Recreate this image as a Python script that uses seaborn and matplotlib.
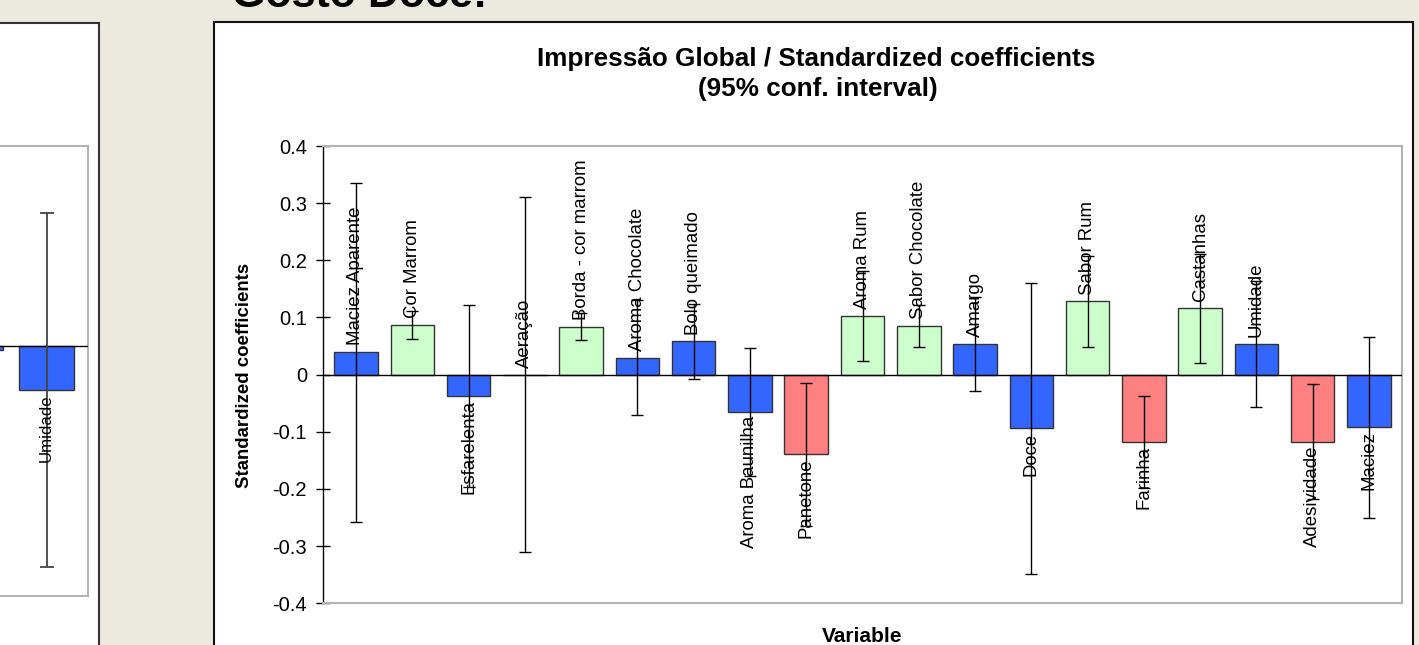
import matplotlib
matplotlib.use("Agg")
import matplotlib.pyplot as plt
from matplotlib.patches import Rectangle
from matplotlib.ticker import FuncFormatter
import numpy as np
import pandas as pd
import seaborn as sns

# ---- data -------------------------------------------------------------
names = ["Maciez Aparente", "Cor Marrom", "Esfarelenta", "Aeração", "Borda - cor marrom",
         "Aroma Chocolate", "Bolo queimado", "Aroma Baunilha", "Panetone", "Aroma Rum",
         "Sabor Chocolate", "Amargo", "Doce", "Sabor Rum", "Farinha", "Castanhas",
         "Umidade", "Adesividade", "Maciez"]
coef = [0.040, 0.087, -0.037, 0.000, 0.084, 0.030, 0.058, -0.065, -0.139, 0.103,
        0.085, 0.054, -0.094, 0.128, -0.118, 0.116, 0.054, -0.117, -0.092]
ci_low = [-0.257, 0.062, -0.197, -0.310, 0.060, -0.070, -0.007, -0.177, -0.264, 0.024,
          0.048, -0.028, -0.349, 0.048, -0.199, 0.020, -0.056, -0.217, -0.250]
ci_high = [0.336, 0.112, 0.122, 0.310, 0.108, 0.130, 0.123, 0.046, -0.014, 0.182,
           0.122, 0.136, 0.161, 0.208, -0.038, 0.211, 0.164, -0.017, 0.065]
effect = ["ns", "pos", "ns", "ns", "pos", "ns", "ns", "ns", "neg", "pos",
          "pos", "ns", "ns", "pos", "neg", "pos", "ns", "neg", "ns"]

# neighbouring panel (only its last bars fall inside the slide)
side_names = [" ", "Umidade"]
side_coef = [-0.008, -0.088]
side_low = [-0.008, -0.442]
side_high = [-0.008, 0.266]
side_effect = ["ns", "ns"]

yticks = [0.4, 0.3, 0.2, 0.1, 0.0, -0.1, -0.2, -0.3, -0.4]
effect_colors = {"ns": "#3366FF", "pos": "#CCFFCC", "neg": "#FF8080"}

# ---- figure -----------------------------------------------------------
W, H = 1419, 645
sns.set_style("white")
plt.rcParams["font.family"] = ["Liberation Sans", "DejaVu Sans"]
plt.rcParams["axes.unicode_minus"] = False
plt.rcParams["text.color"] = "black"
plt.rcParams["ytick.labelcolor"] = "black"

fig = plt.figure(figsize=(W / 100, H / 100), dpi=100)
fig.patch.set_facecolor("#ECE9DF")


def px_rect(left, top, right, bottom):
    return [left / W, 1 - bottom / H, (right - left) / W, (bottom - top) / H]


# slide panels
for (l, t, r, b, ec) in [(-10, 23.3, 99.3, 700, "#333333"), (214, 22.3, 1413.3, 700, "#111111")]:
    x0, y0, w, h = px_rect(l, t, r, b)
    fig.patches.append(Rectangle((x0, y0), w, h, transform=fig.transFigure,
                                 facecolor="white", edgecolor=ec, linewidth=1.5, zorder=-1))

fig.text(232 / W, 1 - 7 / H, "Gosto Doce:", fontsize=31, fontweight="bold",
         ha="left", va="baseline", color="black")

# ---- main chart -------------------------------------------------------
ax = fig.add_axes(px_rect(323.3, 146, 1402, 603.3))
df = pd.DataFrame({"name": names, "coef": coef, "effect": effect})
sns.barplot(data=df, x="name", y="coef", hue="effect", order=names, palette=effect_colors,
            dodge=False, width=0.773, saturation=1, edgecolor="#333333", linewidth=1,
            errorbar=None, legend=False, ax=ax)

c = np.array(coef)
ax.errorbar(np.arange(len(names)), c, yerr=[c - np.array(ci_low), np.array(ci_high) - c],
            fmt="none", ecolor="black", elinewidth=1, capsize=4, capthick=1, zorder=4)
ax.axhline(0, color="black", lw=1, zorder=3)

for i, (n, v) in enumerate(zip(names, coef)):
    if v >= 0:
        ax.annotate(n, (i, v), xytext=(0, 5), textcoords="offset points", rotation=90,
                    ha="center", va="bottom", fontsize=13.4, color="black", zorder=5)
    else:
        ax.annotate(n, (i, v), xytext=(0, -3), textcoords="offset points", rotation=90,
                    ha="center", va="top", fontsize=13.4, color="black", zorder=5)

ax.set_xlim(-0.581, 18.586)
ax.set_ylim(-0.4, 0.4)
ax.set_xticks([])
ax.set_yticks(yticks)
ax.yaxis.set_major_formatter(FuncFormatter(lambda v, p: "0" if abs(v) < 1e-9 else f"{v:.1f}"))
ax.tick_params(axis="y", direction="inout", length=9.5, width=1, color="black",
               labelsize=14.5, labelcolor="black", pad=7, left=True)
ax.set_xlabel("")
ax.set_ylabel("")
ax.set_facecolor("white")
for s in ["top", "right", "bottom"]:
    ax.spines[s].set_color("#B4B4B4")
    ax.spines[s].set_linewidth(1.5)
ax.spines["left"].set_color("black")
ax.spines["left"].set_linewidth(1)

fig.text(816 / W, 1 - 66 / H, "Impressão Global / Standardized coefficients",
         fontsize=18.8, fontweight="bold", ha="center", va="baseline")
fig.text(818 / W, 1 - 96 / H, "(95% conf. interval)",
         fontsize=18.8, fontweight="bold", ha="center", va="baseline")
fig.text(244.5 / W, 1 - 375 / H, "Standardized coefficients", fontsize=13.4,
         fontweight="bold", rotation=90, ha="center", va="center")
fig.text(862 / W, 1 - 641.7 / H, "Variable", fontsize=15, fontweight="bold",
         ha="center", va="baseline")

# ---- neighbouring chart ----------------------------------------------
ax2 = fig.add_axes(px_rect(-200, 145.7, 88.3, 596))
df2 = pd.DataFrame({"name": side_names, "coef": side_coef, "effect": side_effect})
sns.barplot(data=df2, x="name", y="coef", hue="effect", order=side_names, palette=effect_colors,
            dodge=False, width=0.77, saturation=1, edgecolor="#333333", linewidth=1,
            errorbar=None, legend=False, ax=ax2)
sc = np.array(side_coef)
ax2.errorbar(np.arange(len(side_names)), sc,
             yerr=[sc - np.array(side_low), np.array(side_high) - sc],
             fmt="none", ecolor="#444444", elinewidth=1.3, capsize=5, capthick=1.3, zorder=4)
ax2.axhline(0, color="black", lw=1, zorder=3)
for i, (n, v) in enumerate(zip(side_names, side_coef)):
    if n.strip():
        ax2.annotate(n, (i, v), xytext=(0, -3), textcoords="offset points", rotation=90,
                     ha="center", va="top", fontsize=12.2, color="black", zorder=5)
ax2.set_xlim(-2.455, 1.585)
ax2.set_ylim(-0.5, 0.4)
ax2.set_xticks([])
ax2.set_yticks([])
ax2.set_xlabel("")
ax2.set_ylabel("")
ax2.set_facecolor("white")
for s in ax2.spines.values():
    s.set_color("#B4B4B4")
    s.set_linewidth(1.5)

fig.savefig("out.png", dpi=100, facecolor=fig.get_facecolor())
